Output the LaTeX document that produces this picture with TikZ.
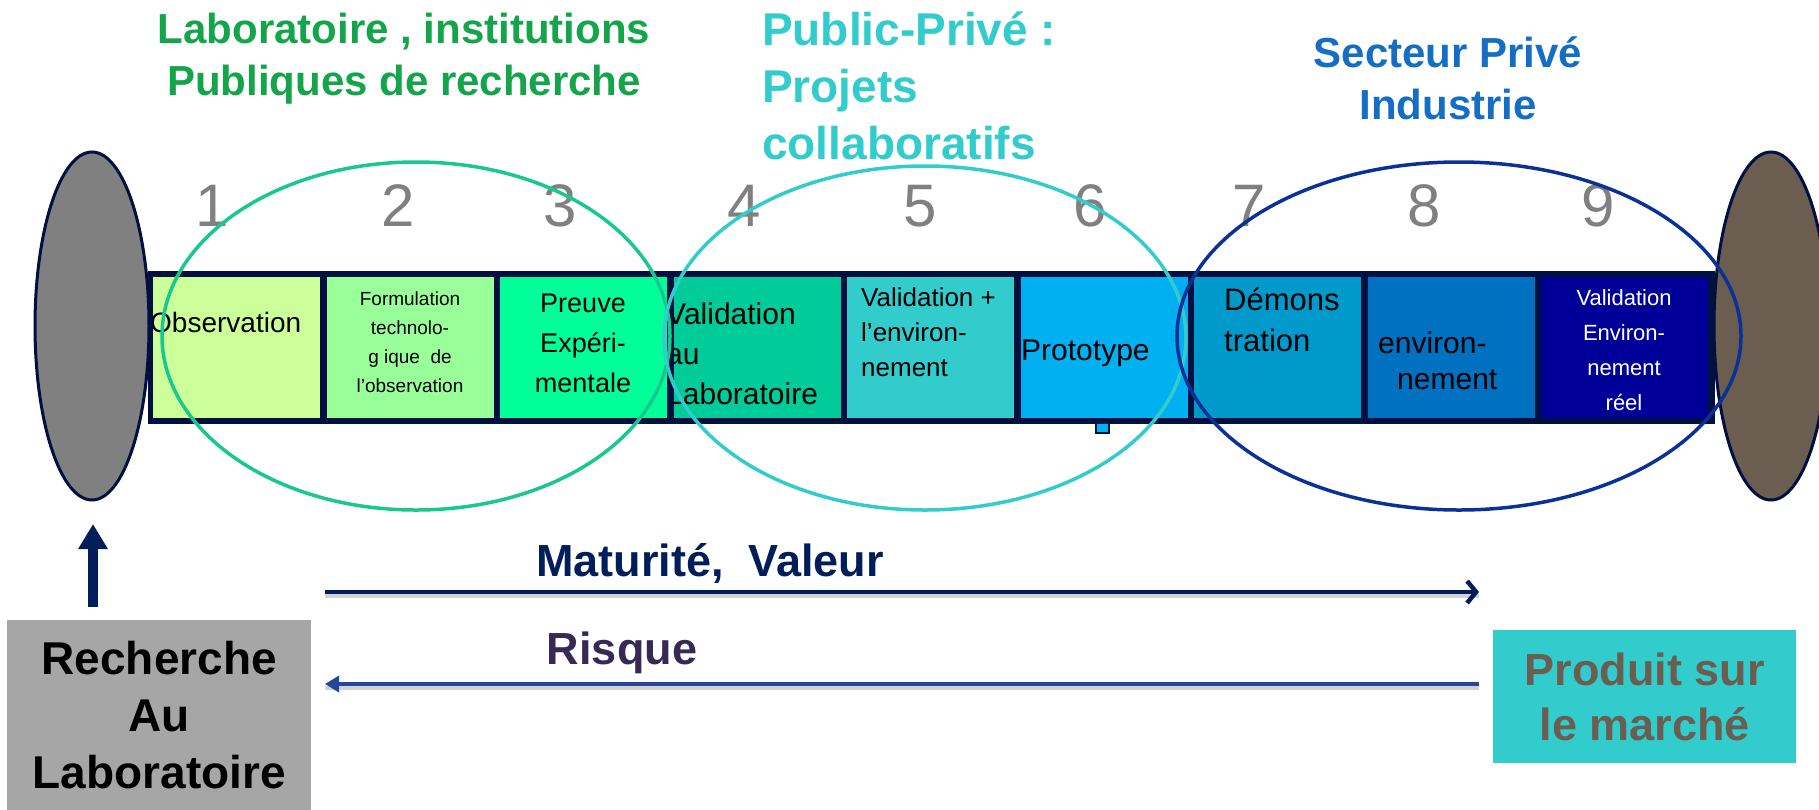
\documentclass[tikz,border=0pt]{standalone}
\usepackage{fontspec}
\setmainfont{Liberation Sans}
\usetikzlibrary{arrows.meta,shapes.geometric}
\definecolor{barnavy}{RGB}{0,16,64}
\definecolor{cA}{HTML}{CCFF99}
\definecolor{cB}{HTML}{99FF99}
\definecolor{cC}{HTML}{00FF99}
\definecolor{cD}{HTML}{00CC99}
\definecolor{cE}{HTML}{33CCCC}
\definecolor{cF}{HTML}{00B0F0}
\definecolor{cG}{HTML}{0099CC}
\definecolor{cH}{HTML}{0070C0}
\definecolor{cI}{HTML}{000099}
\definecolor{numgray}{HTML}{808080}
\definecolor{ringgreen}{RGB}{25,200,140}
\definecolor{ringteal}{HTML}{33CCCC}
\definecolor{ringblue}{RGB}{10,50,150}
\definecolor{titlegreen}{RGB}{20,165,75}
\definecolor{titleteal}{HTML}{33CCCC}
\definecolor{titleblue}{RGB}{20,110,195}
\definecolor{endgray}{HTML}{808080}
\definecolor{endbrown}{RGB}{107,94,80}
\definecolor{arrownavy}{RGB}{0,30,90}
\definecolor{risqueblue}{RGB}{40,70,150}
\definecolor{risquetext}{RGB}{55,40,85}
\definecolor{boxgray}{HTML}{A6A6A6}
\definecolor{produittext}{RGB}{107,94,80}
\begin{document}
\begin{tikzpicture}[x=1pt,y=-1pt,
  cell/.style={minimum width=167pt,minimum height=141pt,inner sep=0pt,anchor=north west},
  num/.style={text=numgray,font=\fontsize{60}{60}\selectfont,inner sep=0pt},
  celltxt/.style={inner sep=0pt,text=black},
  ring/.style={line width=3.5pt},
  endcap/.style={ellipse,draw=barnavy,line width=3pt,minimum width=114pt,minimum height=348pt,inner sep=0pt},
  title/.style={inner sep=0pt,font=\bfseries},
  bigbox/.style={inner sep=0pt,anchor=north west,align=center},
]
\useasboundingbox (0,0) rectangle (1819,809);

% bar
\node[fill=barnavy,minimum width=1567pt,minimum height=153pt,anchor=north west,inner sep=0pt] (bar) at (148,271) {};
\foreach \i/\col in {0/cA,1/cB,2/cC,3/cD,4/cE,5/cF,6/cG,7/cH,8/cI}{
  \node[cell,fill=\col] (cell\i) at ({153+\i*173.5},277) {};
}

% cell texts
\begin{scope}
  \clip (cell0.north west) rectangle (cell0.south east);
  \node[celltxt,anchor=west,font=\fontsize{28}{34}\selectfont] (t1) at (150,322) {Observation};
\end{scope}
\node[celltxt,align=center,font=\fontsize{19}{29}\selectfont] (t2) at (410,342) {Formulation\\technolo-\\g ique\ \ de\\l'observation};
\node[celltxt,align=center,font=\fontsize{27}{40}\selectfont] (t3) at (583,343) {Preuve\\Expéri-\\mentale};
\begin{scope}
  \clip (cell3.north west) rectangle (cell3.south east);
  \node[celltxt,anchor=west,align=left,font=\fontsize{30}{40}\selectfont] (t4) at (666,354) {Validation\\au\\Laboratoire};
\end{scope}
\node[celltxt,anchor=west,align=left,font=\fontsize{26}{35}\selectfont] (t5) at (861,332) {Validation +\\l’environ-\\nement};
\node[celltxt,anchor=west,font=\fontsize{30}{36}\selectfont] (t6) at (1021,353) {Prototype};
\node[celltxt,anchor=west,align=left,font=\fontsize{31}{41}\selectfont] (t7) at (1224,320) {Démons\\tration};
\node[celltxt,anchor=west,align=left,font=\fontsize{30}{36}\selectfont] (t8) at (1378,361) {environ-\\\hspace*{19pt}nement};
\node[celltxt,align=center,text=white,font=\fontsize{22}{35}\selectfont] (t9) at (1624,350) {Validation\\Environ-\\nement\\réel};

% small marker under Prototype
\node[draw=barnavy,fill=cF,line width=2pt,minimum width=13pt,minimum height=10pt,inner sep=0pt] (mark) at (1102,428) {};

% end caps
\node[endcap,fill=endgray] (leftcap) at (92,326) {};
\node[endcap,fill=endbrown] (rightcap) at (1771,326) {};

% numbers
\foreach \n/\x in {1/212,2/398,3/560,4/744,5/920,6/1090,7/1249,8/1424,9/1598}{
  \node[num] (n\n) at (\x,206) {\n};
}

% rings
\draw[ring,draw=ringgreen] (416,336) ellipse [x radius=254, y radius=174];
\draw[ring,draw=ringteal] (925,338) ellipse [x radius=261, y radius=172];
\draw[ring,draw=ringblue] (1459,336) ellipse [x radius=282, y radius=174];

% titles
\node[title,text=titlegreen,align=center,font=\bfseries\fontsize{42}{52}\selectfont] (tgreen) at (404,59) {Laboratoire , institutions\\Publiques de recherche};
\node[title,text=titleteal,align=left,anchor=west,font=\bfseries\fontsize{46}{57}\selectfont] (tteal) at (762,86) {Public-Privé :\\Projets\\collaboratifs};
\node[title,text=titleblue,align=center,font=\bfseries\fontsize{42}{52}\selectfont] (tblue) at (1448,78) {Secteur Privé\\Industrie};

% bottom boxes
\node[bigbox,fill=boxgray,minimum width=304pt,minimum height=190pt] (rech) at (7,620) {};
\node[inner sep=0pt,align=center,font=\bfseries\fontsize{46}{57}\selectfont] (rechtxt) at (rech.center) {Recherche\\Au\\Laboratoire};
\node[bigbox,fill=cE,minimum width=303pt,minimum height=133pt] (prod) at (1493,630) {};
\node[inner sep=0pt,align=center,text=produittext,font=\bfseries\fontsize{45}{55}\selectfont] (prodtxt) at (prod.center) {Produit sur\\le marché};

% up arrow
\coordinate (uptip) at (93,524);
\coordinate (upbase) at (93,607);
\draw[line width=10pt,draw=arrownavy,-{Triangle[length=25pt,width=28pt]}] (upbase) -- (uptip);

% horizontal arrows
\coordinate (matL) at (325,592);
\coordinate (matR) at (1479,592);
\coordinate (risL) at (325,684);
\coordinate (risR) at (1479,684);
\draw[line width=4pt,draw=gray!35] ([yshift=-4pt]matL) -- ([yshift=-4pt]matR);
\draw[line width=4.5pt,draw=arrownavy,-{Straight Barb[length=9pt,width=22pt]}] (matL) -- (matR);
\draw[line width=4pt,draw=gray!35] ([yshift=-4pt]risL) -- ([yshift=-4pt]risR);
\draw[line width=4pt,draw=risqueblue,{Triangle[length=14pt,width=16pt]}-] (risL) -- (risR);

\node[inner sep=0pt,text=arrownavy,font=\bfseries\fontsize{45}{52}\selectfont] (matxt) at (710,563) {Maturité,\ \ Valeur};
\node[inner sep=0pt,text=risquetext,font=\bfseries\fontsize{45}{52}\selectfont] (risxt) at (622,653) {Risque};
\end{tikzpicture}
\end{document}
